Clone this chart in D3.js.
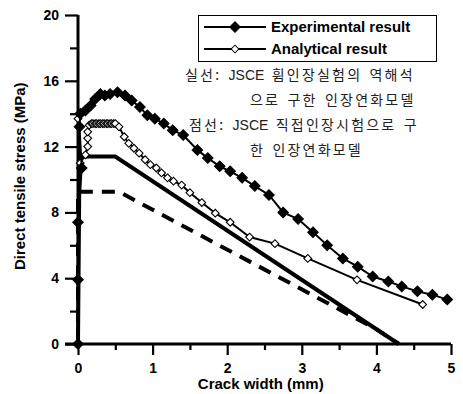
<!DOCTYPE html>
<html>
<head>
<meta charset="utf-8">
<script src="https://cdn.jsdelivr.net/npm/d3@7"></script>
<style>
  body { margin: 0; background: #fff; }
  svg { display: block; }
</style>
</head>
<body>
<div id="chart"></div>
<script>
// crack width (mm) / stress (MPa)
const expW = [0, 0, 0, 0.05, 0.02, 0.03, 0.1, 0.17, 0.23, 0.3, 0.36, 0.43, 0.53, 0.63, 0.72, 0.83, 0.93, 1.03, 1.15, 1.27, 1.41, 1.6, 1.74, 1.9, 2.04, 2.2, 2.37, 2.56, 2.75, 2.95, 3.15, 3.34, 3.55, 3.75, 3.95, 4.16, 4.34, 4.55, 4.75, 4.95];
const expS = [0, 3.9, 7.4, 10.7, 13.2, 14.0, 14.2, 14.5, 14.9, 15.2, 15.1, 15.2, 15.3, 15.1, 14.8, 14.4, 13.9, 13.7, 13.4, 13.0, 12.7, 11.8, 11.3, 10.8, 10.5, 10.1, 9.6, 9.06, 8.0, 7.6, 6.8, 6.0, 5.2, 4.7, 4.1, 3.8, 3.5, 3.2, 3.0, 2.7];

const anaW = [0, 0.03, 0.1, 0.13, 0.13, 0.13, 0.15, 0.18, 0.2, 0.23, 0.25, 0.28, 0.3, 0.33, 0.35, 0.38, 0.4, 0.43, 0.45, 0.48, 0.5, 0.55, 0.62, 0.68, 0.75, 0.82, 0.9, 0.97, 1.05, 1.12, 1.2, 1.28, 1.39, 1.5, 1.66, 1.84, 2.04, 2.3, 2.64, 3.08, 3.74, 4.62];
const anaS = [13.7, 11.0, 11.5, 12.0, 12.5, 12.9, 13.3, 13.4, 13.4, 13.4, 13.4, 13.4, 13.4, 13.4, 13.4, 13.4, 13.4, 13.4, 13.4, 13.4, 13.4, 13.2, 12.6, 12.2, 11.9, 11.6, 11.2, 10.9, 10.7, 10.4, 10.1, 9.9, 9.66, 9.2, 8.6, 7.95, 7.4, 6.5, 6.1, 5.2, 3.9, 2.4];

// softening models
const solidW = [0, 0.02, 0.5, 4.3];
const solidS = [0, 11.4, 11.4, 0];
const dashW = [0, 0, 0.55, 4.0, 4.3];
const dashS = [0, 9.25, 9.25, 0.9, 0];

const xTicks = [0, 1, 2, 3, 4, 5];
const yTicks = [0, 4, 8, 12, 16, 20];

const legendLabels = ['Experimental result', 'Analytical result'];
const noteLines = [
  '실선: JSCE 휨인장실험의 역해석',
  '으로 구한 인장연화모델',
  '점선: JSCE 직접인장시험으로 구',
  '한 인장연화모델'
];

const width = 463, height = 394;
const x = d3.scaleLinear().domain([0, 5]).range([78, 451]);
const y = d3.scaleLinear().domain([0, 20]).range([344, 15]);

const svg = d3.select('#chart').append('svg')
  .attr('width', width)
  .attr('height', height)
  .style('font-family', '"Liberation Sans", Arial, sans-serif');

const line = d3.line().x(d => x(d[0])).y(d => y(d[1]));
const zip = (a, b) => a.map((v, i) => [v, b[i]]);

// model lines
svg.append('path')
  .attr('d', line(zip(dashW, dashS)))
  .attr('fill', 'none')
  .attr('stroke', '#000')
  .attr('stroke-width', 4)
  .attr('stroke-dasharray', '13,9');

svg.append('path')
  .attr('d', line(zip(solidW, solidS)))
  .attr('fill', 'none')
  .attr('stroke', '#000')
  .attr('stroke-width', 4);

// axes
const xAxis = svg.append('g').attr('transform', `translate(0,${y(0)})`)
  .call(d3.axisBottom(x).tickValues(xTicks).tickSize(11).tickFormat(d3.format('d')));
const xMinor = svg.append('g').attr('transform', `translate(0,${y(0)})`)
  .call(d3.axisBottom(x).tickValues(d3.range(0.5, 5, 1)).tickSize(6).tickFormat(''));
const yAxis = svg.append('g').attr('transform', `translate(${x(0)},0)`)
  .call(d3.axisLeft(y).tickValues(yTicks).tickSize(13).tickFormat(d3.format('d')));
const yMinor = svg.append('g').attr('transform', `translate(${x(0)},0)`)
  .call(d3.axisLeft(y).tickValues(d3.range(2, 20, 4)).tickSize(8).tickFormat(''));

[xAxis, xMinor, yAxis, yMinor].forEach(g => {
  g.select('.domain').remove();
  g.selectAll('line').attr('stroke', '#000').attr('stroke-width', 2.2);
  g.selectAll('text')
    .attr('fill', '#000')
    .style('font-size', '14px')
    .style('font-weight', 'bold');
});
xAxis.selectAll('text').attr('dy', '1.05em');
yAxis.selectAll('text').attr('x', -19);

svg.append('line')
  .attr('x1', 65).attr('x2', x(5))
  .attr('y1', y(0)).attr('y2', y(0))
  .attr('stroke', '#000').attr('stroke-width', 3);
svg.append('line')
  .attr('x1', x(0)).attr('x2', x(0))
  .attr('y1', y(20)).attr('y2', y(0))
  .attr('stroke', '#000').attr('stroke-width', 3);

// data series
const diamond = d3.symbol().type(d3.symbolSquare);

function series(w, s, filled, size) {
  const pts = zip(w, s);
  svg.append('path')
    .attr('d', line(pts))
    .attr('fill', 'none')
    .attr('stroke', '#000')
    .attr('stroke-width', 2);
  svg.append('g').selectAll('path').data(pts).join('path')
    .attr('d', diamond.size(size)())
    .attr('transform', d => `translate(${x(d[0])},${y(d[1])}) rotate(45)`)
    .attr('fill', filled ? '#000' : '#fff')
    .attr('stroke', '#000')
    .attr('stroke-width', filled ? 1 : 1.1);
}

series(anaW, anaS, false, 30);
series(expW, expS, true, 56);

// legend
const lg = svg.append('g');
lg.append('rect')
  .attr('x', 198.5).attr('y', 15.5)
  .attr('width', 238).attr('height', 46)
  .attr('fill', '#fff')
  .attr('stroke', '#000')
  .attr('stroke-width', 1);

legendLabels.forEach((label, i) => {
  const cy = 27 + i * 22;
  lg.append('line')
    .attr('x1', 204).attr('x2', 266)
    .attr('y1', cy).attr('y2', cy)
    .attr('stroke', '#000').attr('stroke-width', 2);
  lg.append('path')
    .attr('d', diamond.size(i === 0 ? 56 : 30)())
    .attr('transform', `translate(235,${cy}) rotate(45)`)
    .attr('fill', i === 0 ? '#000' : '#fff')
    .attr('stroke', '#000');
  lg.append('text')
    .attr('x', 271).attr('y', cy + 5)
    .style('font-size', '15px')
    .style('font-weight', 'bold')
    .text(label);
});

// notes: Hangul spaced out, the Latin "JSCE" kept tight
const noteX = [185, 250, 189, 250];
noteLines.forEach((t, i) => {
  const txt = svg.append('text')
    .attr('x', noteX[i])
    .attr('y', 80 + i * 25)
    .style('font-family', '"Noto Sans CJK KR", sans-serif')
    .style('font-size', '14px')
    .attr('fill', '#222')
    .style('word-spacing', '2px');
  t.split(/(JSCE)/).forEach(part => {
    txt.append('tspan')
      .style('letter-spacing', part === 'JSCE' ? '0px' : '2.2px')
      .style('font-family', part === 'JSCE' ? '"Liberation Sans", Arial, sans-serif' : null)
      .text(part);
  });
});

// axis titles
svg.append('text')
  .attr('x', x(2.45)).attr('y', 389)
  .attr('text-anchor', 'middle')
  .style('font-size', '15px')
  .style('font-weight', 'bold')
  .text('Crack width (mm)');

svg.append('text')
  .attr('transform', `translate(25,${y(10.2)}) rotate(-90)`)
  .attr('text-anchor', 'middle')
  .style('font-size', '15px')
  .style('font-weight', 'bold')
  .text('Direct tensile stress (MPa)');
</script>
</body>
</html>
